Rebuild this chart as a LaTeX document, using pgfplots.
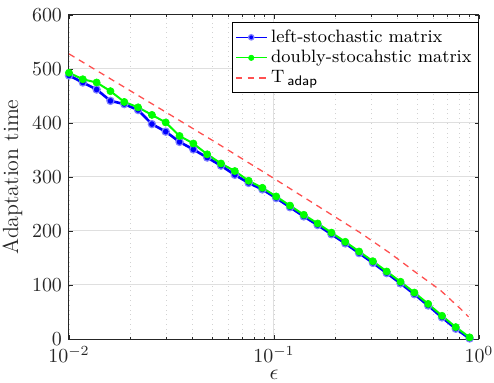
\documentclass[border=0pt]{standalone}
\usepackage{pgfplots}
\pgfplotsset{compat=1.18}
\definecolor{axgray}{gray}{0.15}
\definecolor{myred}{RGB}{255,80,80}
\definecolor{myblue}{RGB}{0,0,255}
\definecolor{mygreen}{RGB}{0,255,0}
\begin{document}
\begin{tikzpicture}
\begin{axis}[
  name=ax,
  at={(0,0)}, anchor=south west,
  scale only axis,
  width=205bp, height=162bp,
  xmode=log,
  xmin=0.01, xmax=1, ymin=0, ymax=600,
  ytick={0,100,...,600},
  xtick={0.01,0.1,1},
  xticklabels={$10^{-2}$,$10^{-1}$,$10^{0}$},
  tick align=inside,
  major tick length=2bp, minor tick length=1.2bp,
  xminorgrids=true, xmajorgrids=true, ymajorgrids=true,
  major grid style={gray!25, line width=0.5bp},
  minor grid style={gray!35, dotted, line width=0.4bp},
  axis line style={axgray, line width=0.5bp},
  every tick/.style={axgray, line width=0.4bp},
  tick label style={font=\fontsize{10}{12}\selectfont, text=axgray},
  label style={font=\fontsize{11}{13}\selectfont, text=axgray},
  xlabel={$\epsilon$},
  ylabel={Adaptation time},
  xlabel style={yshift=3bp},
  ylabel style={yshift=-2bp},
  legend style={at={(1,0.978)}, anchor=north east, draw=black, fill=white,
     font=\fontsize{9}{10}\selectfont, inner sep=1.5bp, row sep=-1.5bp,
     line width=0.4bp},
  legend cell align=left,
  legend image post style={scale=0.9, mark size=1.5bp, line width=0.6bp},
]
\addplot[myblue, line width=1.3bp, mark=*, mark size=1.8bp,
  mark options={fill=myblue, draw=myblue!50, line width=0.6bp}] coordinates {
(0.0100,488)(0.01168,475)(0.01364,462)(0.01593,441)(0.01861,435)(0.02173,424)
(0.02538,398)(0.02964,384)(0.03462,365)(0.04043,351)(0.04722,336)(0.05515,321)
(0.06441,304)(0.07523,289)(0.08777,277)(0.1025,261)(0.1197,244)(0.1398,227)
(0.1633,211)(0.1907,194)(0.2227,177)(0.2601,159)(0.3038,141)(0.3547,122)
(0.4143,103)(0.4838,83)(0.5650,62)(0.6599,40)(0.7706,19)(0.9000,1)
};
\addlegendentry{left-stochastic matrix}
\addplot[mygreen, line width=1bp, mark=*, mark size=1.8bp,
  mark options={fill=mygreen, draw=mygreen, line width=0.3bp}] coordinates {
(0.0100,493)(0.01168,481)(0.01364,475)(0.01593,459)(0.01861,439)(0.02173,429)
(0.02538,415)(0.02964,401)(0.03462,376)(0.04043,362)(0.04722,342)(0.05515,325)
(0.06441,311)(0.07523,293)(0.08777,280)(0.1025,264)(0.1197,247)(0.1398,230)
(0.1633,214)(0.1907,197)(0.2227,180)(0.2601,162)(0.3038,144)(0.3547,125)
(0.4143,106)(0.4838,86)(0.5650,65)(0.6599,43)(0.7706,22)(0.9000,3)
};
\addlegendentry{doubly-stocahstic matrix}
\addplot[myred, line width=0.65bp, dash pattern=on 3.2bp off 2.6bp] coordinates {
(0.01,528)(0.03,419)(0.0515,365)(0.0955,302)(0.263,197)(0.368,159)
(0.497,122)(0.645,91)(0.807,57)(0.89,41)
};
\addlegendentry{T\,\raisebox{-0.35ex}{\textsf{\scriptsize adap}}}
\end{axis}
\pgfresetboundingbox
\path ([shift={(-34.5bp,-22bp)}]ax.south west) rectangle ([shift={(7.5bp,7.5bp)}]ax.north east);
\end{tikzpicture}
\end{document}
